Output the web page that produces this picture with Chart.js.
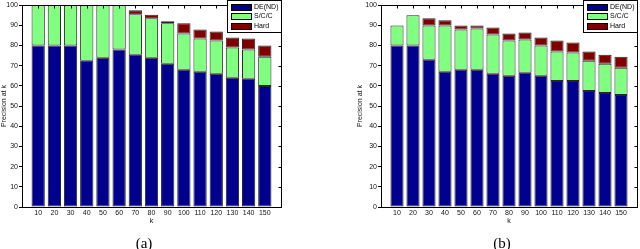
<!DOCTYPE html>
<html>
<head>
<meta charset="utf-8">
<script src="https://cdn.jsdelivr.net/npm/chart.js@4.4.0/dist/chart.umd.min.js"></script>
<style>
html, body { margin: 0; padding: 0; background: #fff; }
#wrap { position: relative; width: 640px; height: 249px; overflow: hidden; }
.pane { position: absolute; top: 0; width: 320px; height: 249px; }
.cap { position: absolute; top: 235px; width: 40px; text-align: center; font: 15px "Liberation Serif", "Times New Roman", serif; color: #000; line-height: 17px; }
</style>
</head>
<body>
<div id="wrap">
  <div class="pane" style="left:0"><canvas id="grafico-a" width="320" height="249"></canvas></div>
  <div class="pane" style="left:320px"><canvas id="grafico-b" width="320" height="249"></canvas></div>
  <div class="cap" style="left:124px">(a)</div>
  <div class="cap" style="left:482px">(b)</div>
</div>
<script>
// valores de k
const kLabels = ['10', '20', '30', '40', '50', '60', '70', '80', '90', '100', '110', '120', '130', '140', '150'];
const yTicks = [0, 10, 20, 30, 40, 50, 60, 70, 80, 90, 100];
const seriesNames = ['DE(ND)', 'S/C/C', 'Hard'];

// grafico (a)
const aDE = [80, 80, 80, 72.5, 74, 78, 75.5, 74, 71, 68, 67, 66, 64, 63.5, 60];
const aSCC = [20, 20, 20, 27.5, 26, 22, 20, 19.5, 20, 18, 16.5, 16.5, 15, 14.5, 14.5];
const aHard = [null, null, null, null, null, null, 2, 1.8, 1, 5, 4.5, 4.5, 5, 5.5, 5.5];

// grafico (b)
const bDE = [80, 80, 73, 67, 68, 68, 66, 65, 66.5, 65, 62.5, 62.5, 57.5, 56.5, 55.5];
const bSCC = [10, 15, 17, 23, 20, 20.5, 19.5, 17.5, 16.5, 15, 14.5, 14, 15, 14.5, 13.5];
const bHard = [null, null, 3.5, 2.5, 2, 1.5, 3.5, 3.5, 3.5, 4, 5.5, 5, 4.5, 4.5, 5.5];

const cores = ['rgb(0,0,143)', 'rgb(128,255,128)', 'rgb(128,0,0)'];
const fonte = '"Liberation Sans", Arial, sans-serif';

// eixo x com uma posicao vazia em cada ponta (como xlim [0 16] do matlab)
const pad = arr => [null, ...arr, null];

// caixa em volta do grafico + marcas internas
const moldura = {
    id: 'moldura',
    afterDatasetsDraw(chart) {
        const { ctx, chartArea: a, scales: { x, y } } = chart;
        ctx.save();
        ctx.strokeStyle = '#000';
        ctx.lineWidth = 1;
        const l = Math.round(a.left) + 0.5, t = Math.round(a.top) + 0.5;
        const r = Math.round(a.right) + 0.5, b = Math.round(a.bottom) + 0.5;
        ctx.strokeRect(l, t, r - l, b - t);
        ctx.beginPath();
        y.ticks.forEach((tk, i) => {
            const py = Math.round(y.getPixelForTick(i)) + 0.5;
            ctx.moveTo(r, py);
            ctx.lineTo(r - 3, py);
        });
        for (let i = 1; i < x.ticks.length - 1; i++) {
            const px = Math.round(x.getPixelForTick(i)) + 0.5;
            ctx.moveTo(px, t);
            ctx.lineTo(px, t + 3);
        }
        ctx.stroke();
        ctx.restore();
    }
};

// legenda desenhada por cima das barras
const legenda = {
    id: 'legenda',
    afterDraw(chart) {
        const { ctx, chartArea: a } = chart;
        const ds = chart.data.datasets;
        ctx.save();
        ctx.font = '7px ' + fonte;
        const tw = Math.max(...ds.map(d => ctx.measureText(d.label).width));
        const w = Math.round(4 + 20 + 3 + tw + 3);
        const h = 32;
        const x0 = Math.round(a.right) - w, y0 = 0;
        ctx.fillStyle = '#fff';
        ctx.fillRect(x0, y0, w, h);
        ctx.strokeStyle = '#000';
        ctx.lineWidth = 1;
        ctx.strokeRect(x0 + 0.5, y0 + 0.5, w, h);
        ds.forEach((d, i) => {
            const cy = Math.round(y0 + 6.5 + i * 9.5);
            ctx.fillStyle = d.backgroundColor;
            ctx.fillRect(x0 + 4, cy - 3, 20, 6);
            ctx.strokeStyle = '#000';
            ctx.strokeRect(x0 + 4.5, cy - 2.5, 20, 6);
            ctx.fillStyle = '#000';
            ctx.textBaseline = 'middle';
            ctx.textAlign = 'left';
            ctx.fillText(d.label, x0 + 27, cy + 0.5);
        });
        ctx.restore();
    }
};

function criarGrafico(id, de, scc, hard, layoutPad, yWidth) {
    const dados = [de, scc, hard];
    return new Chart(document.getElementById(id).getContext('2d'), {
        type: 'bar',
        data: {
            labels: ['', ...kLabels, ''],
            datasets: dados.map((vals, i) => ({
                label: seriesNames[i],
                data: pad(vals),
                backgroundColor: cores[i],
                borderColor: 'rgba(0,0,0,0.85)',
                borderWidth: 1,
                borderSkipped: false,
                barPercentage: 0.82,
                categoryPercentage: 1
            }))
        },
        options: {
            responsive: false,
            animation: false,
            events: [],
            layout: { padding: layoutPad },
            plugins: { legend: { display: false }, tooltip: { enabled: false } },
            scales: {
                x: {
                    stacked: true,
                    offset: false,
                    grid: { display: false, drawTicks: false, tickLength: 0 },
                    border: { display: false },
                    ticks: { autoSkip: false, maxRotation: 0, padding: 2, color: '#111', font: { family: fonte, size: 7 } },
                    title: { display: true, text: 'k', color: '#111', padding: { top: 0, bottom: 4 }, font: { family: fonte, size: 7 } },
                    afterFit: s => { s.height = 22; }
                },
                y: {
                    stacked: true,
                    min: 0,
                    max: 100,
                    afterBuildTicks: s => { s.ticks = yTicks.map(v => ({ value: v })); },
                    grid: { display: true, drawOnChartArea: false, drawTicks: true, tickLength: 3, color: '#000' },
                    border: { display: false },
                    ticks: { padding: 1, color: '#111', font: { family: fonte, size: 7 } },
                    title: { display: true, text: 'Precision at k', color: '#111', padding: { top: 0, bottom: 0 }, font: { family: fonte, size: 7 } },
                    afterFit: s => { s.width = yWidth; }
                }
            }
        },
        plugins: [moldura, legenda]
    });
}

criarGrafico('grafico-a', aDE, aSCC, aHard, { left: 0, right: 39, top: 2, bottom: 20 }, 22);
criarGrafico('grafico-b', bDE, bSCC, bHard, { left: 36, right: 3, top: 2, bottom: 20 }, 25);
</script>
</body>
</html>
